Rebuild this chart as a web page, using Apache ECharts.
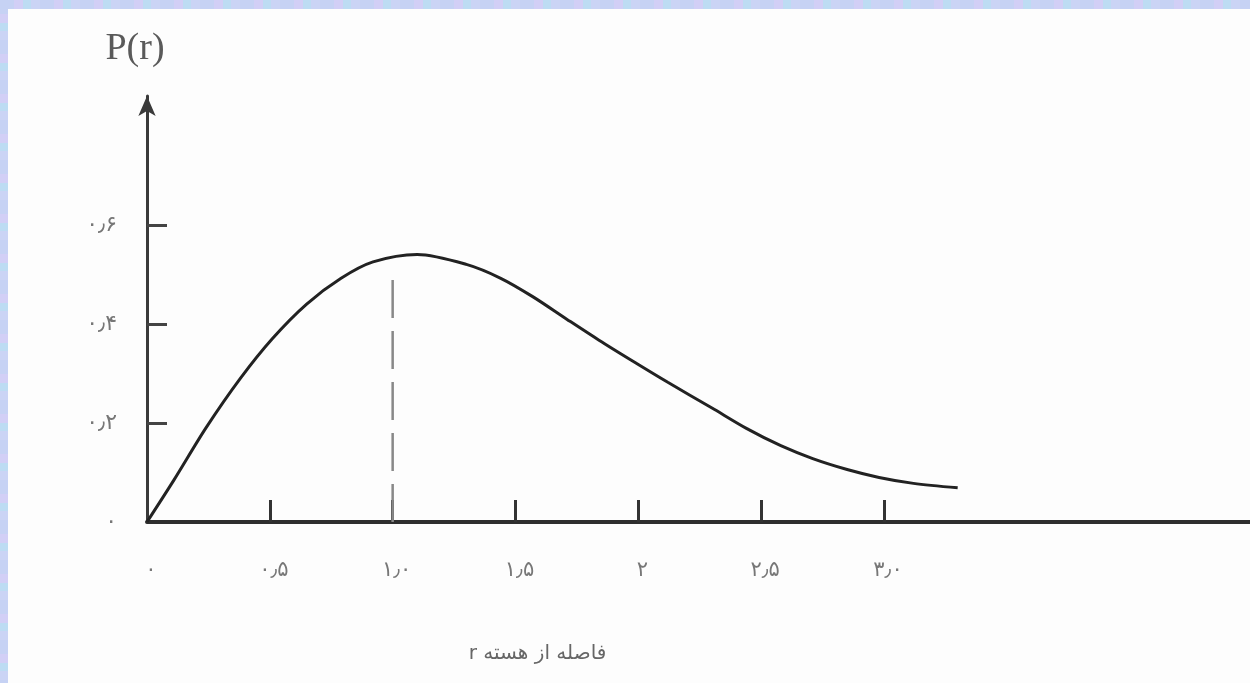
<!DOCTYPE html>
<html>
<head>
<meta charset="utf-8">
<script src="https://cdn.jsdelivr.net/npm/echarts@6/dist/echarts.min.js"></script>
<style>
  html, body { margin: 0; padding: 0; background: #fdfdfd; }
  #chart { position: absolute; left: 0; top: 0; width: 1250px; height: 683px; }
  .strip { position: absolute; z-index: 2;
    background: repeating-linear-gradient(90deg, #c6d2f4 0 14px, #d2cff6 14px 23px, #bddcf3 23px 31px, #cbd4f5 31px 40px); }
  #stripTop { left: 0; top: 0; width: 1250px; height: 9px; }
  #stripLeft { left: 0; top: 0; width: 8px; height: 683px;
    background: repeating-linear-gradient(180deg, #c6d2f4 0 14px, #d2cff6 14px 23px, #bddcf3 23px 31px, #cbd4f5 31px 40px); }
</style>
</head>
<body>
<div id="chart"></div>
<div class="strip" id="stripTop"></div>
<div class="strip" id="stripLeft"></div>
<script>
// Radial probability P(r) against distance from the nucleus r
const rValues = [0, 0.11, 0.24, 0.38, 0.51, 0.65, 0.79, 0.92, 1.10, 1.30, 1.44, 1.57, 1.71, 1.84, 1.98, 2.12, 2.30, 2.44, 2.58, 2.71, 2.85, 2.98, 3.12, 3.30];
const pValues = [0, 0.085, 0.19, 0.29, 0.37, 0.44, 0.492, 0.525, 0.54, 0.52, 0.492, 0.455, 0.409, 0.367, 0.324, 0.282, 0.230, 0.189, 0.154, 0.128, 0.106, 0.090, 0.078, 0.069];

// Position of the most probable radius (dashed marker)
const peakR = [1.0, 1.0];
const peakP = [0, 0.51];

// Axis tick values and their Persian labels
const xTickValues = [0.5, 1.0, 1.5, 2.0, 2.5, 3.0];
const xLabelValues = [0, 0.5, 1.0, 1.5, 2.0, 2.5, 3.0];
const xLabelTexts = ['۰', '۰٫۵', '۱٫۰', '۱٫۵', '۲', '۲٫۵', '۳٫۰'];
const yTickValues = [0.2, 0.4, 0.6];
const yLabelValues = [0, 0.2, 0.4, 0.6];
const yLabelTexts = ['۰', '۰٫۲', '۰٫۴', '۰٫۶'];

const xAxisName = 'r فاصله از هسته';
const yAxisName = 'P(r)';

function labelFor(values, texts) {
  return function (v) {
    for (let i = 0; i < values.length; i++) {
      if (Math.abs(values[i] - v) < 1e-6) return texts[i];
    }
    return '';
  };
}

const chart = echarts.init(document.getElementById('chart'), null, { renderer: 'canvas' });
chart.setOption({
  backgroundColor: '#fdfdfd',
  animation: false,
  grid: { left: 147, right: 0, top: 96, bottom: 161, containLabel: false },
  xAxis: {
    type: 'value',
    min: 0,
    max: 4.49,
    name: xAxisName,
    nameLocation: 'middle',
    nameGap: 122,
    nameTextStyle: {
      fontFamily: 'DejaVu Sans', fontSize: 20, color: '#666',
      padding: [0, 322, 0, 0]
    },
    axisLine: { show: true, onZero: false, lineStyle: { color: '#2e2e2e', width: 4 } },
    axisTick: {
      show: true, inside: true, length: 22,
      customValues: xTickValues,
      lineStyle: { color: '#333', width: 3 }
    },
    axisLabel: {
      show: true, margin: 38,
      customValues: xLabelValues,
      formatter: labelFor(xLabelValues, xLabelTexts),
      fontFamily: 'DejaVu Sans', fontSize: 21, color: '#777',
      padding: [0, 0, 0, 8]
    },
    splitLine: { show: false }
  },
  yAxis: {
    type: 'value',
    min: 0,
    max: 0.86,
    name: yAxisName,
    nameLocation: 'end',
    nameGap: 28,
    nameTextStyle: {
      fontFamily: 'Liberation Serif', fontSize: 38, color: '#5a5a5a',
      align: 'center', padding: [0, 24, 0, 0]
    },
    axisLine: {
      show: true, onZero: false,
      symbol: ['none', 'arrow'], symbolSize: [13, 20],
      lineStyle: { color: '#3a3a3a', width: 3 }
    },
    axisTick: {
      show: true, inside: true, length: 20,
      customValues: yTickValues,
      lineStyle: { color: '#444', width: 3 }
    },
    axisLabel: {
      show: true, margin: 30,
      customValues: yLabelValues,
      formatter: labelFor(yLabelValues, yLabelTexts),
      fontFamily: 'DejaVu Sans', fontSize: 22, color: '#777'
    },
    splitLine: { show: false }
  },
  series: [
    {
      name: 'P(r)',
      type: 'line',
      data: rValues.map((r, i) => [r, pValues[i]]),
      smooth: 0.3,
      showSymbol: false,
      lineStyle: { color: '#222', width: 3 },
      z: 3
    },
    {
      name: 'peak',
      type: 'line',
      data: peakR.map((r, i) => [r, peakP[i]]),
      showSymbol: false,
      lineStyle: { color: '#888', width: 2.5, type: [38, 13] },
      z: 2
    }
  ]
});
</script>
</body>
</html>
